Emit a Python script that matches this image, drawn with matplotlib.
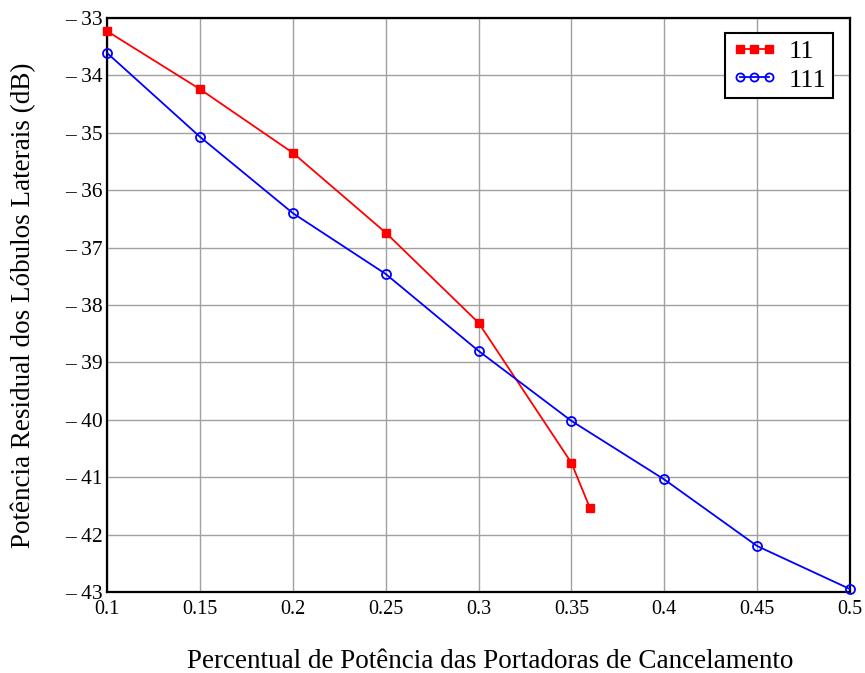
import matplotlib.pyplot as plt
from matplotlib.ticker import FixedLocator, FuncFormatter

plt.rcParams['font.family'] = ['Liberation Serif', 'DejaVu Serif']

# data
x_11 = [0.1, 0.15, 0.2, 0.25, 0.3, 0.35, 0.36]
y_11 = [-33.23, -34.24, -35.35, -36.74, -38.31, -40.75, -41.54]

x_111 = [0.1, 0.15, 0.2, 0.25, 0.3, 0.35, 0.4, 0.45, 0.5]
y_111 = [-33.61, -35.07, -36.40, -37.46, -38.80, -40.02, -41.04, -42.20, -42.95]

x_ticks = [0.1, 0.15, 0.2, 0.25, 0.3, 0.35, 0.4, 0.45, 0.5]
y_ticks = [-43, -42, -41, -40, -39, -38, -37, -36, -35, -34, -33]

fig = plt.figure(figsize=(8.65, 6.73), dpi=100)
ax = fig.add_axes([0.1237, 0.1204, 0.859, 0.853])

ax.plot(x_11, y_11, color='red', lw=1.3, marker='s', ms=6, label='11', clip_on=False, zorder=3)
ax.plot(x_111, y_111, color='blue', lw=1.3, marker='o', ms=6.5, mfc='none', mew=1.3,
        label='111', clip_on=False, zorder=3)

ax.set_xlim(0.1, 0.5)
ax.set_ylim(-43, -33)
ax.xaxis.set_major_locator(FixedLocator(x_ticks))
ax.yaxis.set_major_locator(FixedLocator(y_ticks))
ax.xaxis.set_major_formatter(FuncFormatter(lambda v, p: f'{v:g}'))
ax.yaxis.set_major_formatter(FuncFormatter(lambda v, p: f'\u2013 {abs(v):g}'))
ax.tick_params(length=0, labelsize=14.5)
ax.tick_params(axis='x', pad=6)
ax.tick_params(axis='y', pad=3)
for t in ax.get_yticklabels():
    t.set_fontsize(15.5)
ax.grid(True, color='#a0a0a0', lw=1.0)
for s in ax.spines.values():
    s.set_linewidth(1.6)

fig.text(490 / 865, 1 - 662 / 673, 'Percentual de Potência das Portadoras de Cancelamento',
         fontsize=19.5, ha='center', va='center')
fig.text(23 / 865, 1 - 305 / 673, 'Potência Residual dos Lóbulos Laterais (dB)',
         fontsize=19.5, ha='center', va='center', rotation=90)

leg = ax.legend(loc='upper right', bbox_to_anchor=(0.977, 0.974), fontsize=19, fancybox=False,
                framealpha=1, edgecolor='black', borderpad=0.25, handlelength=1.7, numpoints=3,
                labelspacing=0.2, handletextpad=0.45, borderaxespad=0, markerscale=0.9)
leg.get_frame().set_linewidth(1.5)

plt.savefig('out.png', dpi=100)
